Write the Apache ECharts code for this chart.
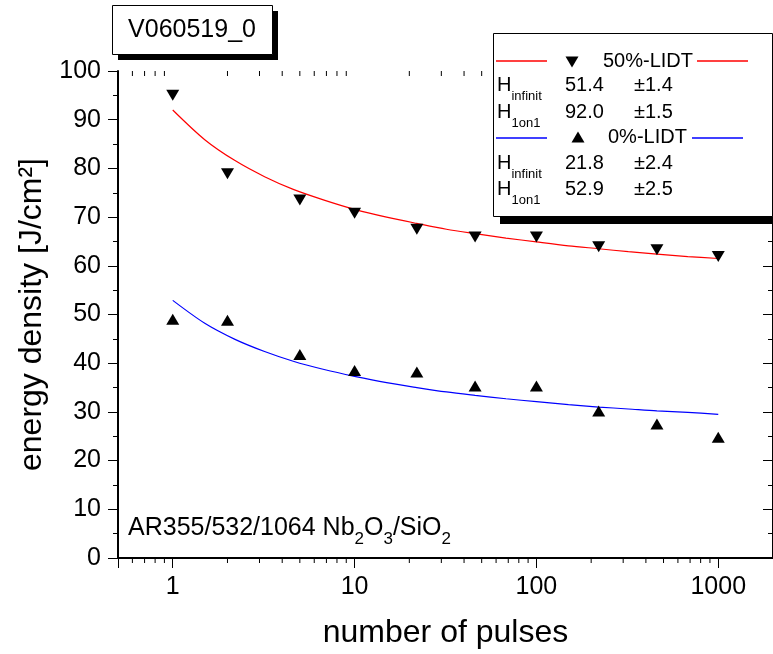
<!DOCTYPE html>
<html>
<head>
<meta charset="utf-8">
<script src="https://cdn.jsdelivr.net/npm/echarts@6/dist/echarts.min.js"></script>
<style>
html,body{margin:0;padding:0;background:#fff;}
#chart{width:773px;height:654px;}
</style>
</head>
<body>
<div id="chart"></div>
<script>
// ---- data ----
const pulses = [1, 2, 5, 10, 22, 46, 100, 220, 460, 1000];
const lidt50 = [95.0, 78.9, 73.5, 70.8, 67.5, 65.9, 65.9, 63.9, 63.3, 61.9];
const lidt0  = [49.0, 48.8, 41.8, 38.5, 38.2, 35.3, 35.3, 30.2, 27.5, 24.8];

// fitted curves
const fitPulses = [1, 1.5, 2.2, 3.2, 4.6, 6.8, 10, 15, 22, 32, 46, 68, 100, 150, 220, 320, 460, 680, 1000];
const fit50 = [92.0, 85.9, 81.6, 78.3, 75.7, 73.5, 71.6, 70.0, 68.7, 67.5, 66.6, 65.7, 64.9, 64.1, 63.5, 62.9, 62.4, 61.9, 61.5];
const fit0  = [52.9, 48.2, 44.9, 42.4, 40.4, 38.7, 37.3, 36.0, 35.0, 34.1, 33.4, 32.7, 32.1, 31.5, 31.0, 30.6, 30.2, 29.9, 29.5];

const xMinorTicks = [0.6, 0.7, 0.8, 0.9, 2, 3, 4, 5, 6, 7, 8, 9, 20, 30, 40, 50, 60, 70, 80, 90,
                     200, 300, 400, 500, 600, 700, 800, 900];
const xTickLabels = ['1', '10', '100', '1000'];

const titleText = 'V060519_0';
const legendRows50 = [['infinit', '51.4', '±1.4'], ['1on1', '92.0', '±1.5']];
const legendRows0  = [['infinit', '21.8', '±2.4'], ['1on1', '52.9', '±2.5']];
const legendHead50 = '50%-LIDT';
const legendHead0  = '0%-LIDT';

// ---- chart ----
const FONT = '"Liberation Sans", Arial, sans-serif';
const chart = echarts.init(document.getElementById('chart'), null, {renderer: 'canvas'});

const pair = (xs, ys) => xs.map((x, i) => [x, ys[i]]);

function hText(x, y, sub) {
  return {
    type: 'text', z: 101,
    style: {
      x: x, y: y, verticalAlign: 'middle', align: 'left',
      text: '{h|H}{s|' + sub + '}',
      rich: {
        h: {fontSize: 20, fontFamily: FONT, lineHeight: 36, verticalAlign: 'middle', fill: '#000'},
        s: {fontSize: 13, fontFamily: FONT, lineHeight: 14, verticalAlign: 'bottom', fill: '#000'}
      }
    }
  };
}
function plainText(x, y, t, size) {
  return {type: 'text', z: 101, style: {x: x, y: y, text: t, fontSize: size, fontFamily: FONT, fill: '#000', verticalAlign: 'middle', align: 'left'}};
}
function hline(x1, x2, y, color) {
  return {type: 'polyline', z: 101, shape: {points: [[x1, y], [x2, y]]}, style: {stroke: color, lineWidth: 1.4, fill: null}};
}

const graphics = [
  // title box
  {type: 'rect', z: 100, shape: {x: 118, y: 11, width: 160, height: 49}, style: {fill: '#000'}},
  {type: 'rect', z: 100, shape: {x: 112.5, y: 5.5, width: 160, height: 49}, style: {fill: '#fff', stroke: '#000', lineWidth: 1}},
  {type: 'text', z: 101, style: {x: 192, y: 30, text: titleText, fontSize: 25, fontFamily: FONT, fill: '#000', align: 'center', verticalAlign: 'middle'}},
  // legend box
  {type: 'rect', z: 100, shape: {x: 500, y: 40, width: 290, height: 184}, style: {fill: '#000'}},
  {type: 'rect', z: 100, shape: {x: 493.5, y: 33.5, width: 279, height: 183}, style: {fill: '#fff', stroke: '#000', lineWidth: 1}},
  hline(496, 547, 61, '#ff0000'),
  {type: 'polygon', z: 101, shape: {points: [[565.5, 56.5], [578.5, 56.5], [572, 67.5]]}, style: {fill: '#000'}},
  plainText(603, 61, legendHead50, 20),
  hline(697, 748, 61, '#ff0000'),
  hText(497, 85, legendRows50[0][0]), plainText(565, 85, legendRows50[0][1], 20), plainText(634, 85, legendRows50[0][2], 20),
  hText(497, 112, legendRows50[1][0]), plainText(565, 112, legendRows50[1][1], 20), plainText(634, 112, legendRows50[1][2], 20),
  hline(496, 547, 138, '#0000ff'),
  {type: 'polygon', z: 101, shape: {points: [[578, 131.5], [584.5, 142.5], [571.5, 142.5]]}, style: {fill: '#000'}},
  plainText(608, 137, legendHead0, 20),
  hline(692, 743, 138, '#0000ff'),
  hText(497, 163, legendRows0[0][0]), plainText(565, 163, legendRows0[0][1], 20), plainText(634, 163, legendRows0[0][2], 20),
  hText(497, 189, legendRows0[1][0]), plainText(565, 189, legendRows0[1][1], 20), plainText(634, 189, legendRows0[1][2], 20),
  // sample annotation
  {
    type: 'text', z: 101,
    style: {
      x: 128, y: 528, align: 'left', verticalAlign: 'middle',
      text: '{m|AR355/532/1064 Nb}{s|2}{m|O}{s|3}{m|/SiO}{s|2}',
      rich: {
        m: {fontSize: 25, fontFamily: FONT, lineHeight: 40, verticalAlign: 'middle', fill: '#000'},
        s: {fontSize: 17, fontFamily: FONT, lineHeight: 18, verticalAlign: 'bottom', fill: '#000'}
      }
    }
  }
];

const axisLineStyle = {show: true, lineStyle: {color: '#000', width: 2}};
const labelStyle = {color: '#000', fontSize: 25, fontFamily: FONT};

const option = {
  animation: false,
  backgroundColor: '#fff',
  grid: {left: 118, top: 71, width: 660, height: 488, containLabel: false},
  xAxis: [
    {
      type: 'log', logBase: 10, min: 0.5, max: 2000, position: 'bottom',
      axisLine: axisLineStyle,
      axisTick: {show: true, inside: false, length: 10, lineStyle: {color: '#000', width: 1}},
      axisLabel: Object.assign({margin: 17, showMinLabel: false, showMaxLabel: false,
        formatter: v => { const s = String(Math.round(v)); return xTickLabels.indexOf(s) >= 0 ? s : ''; }}, labelStyle),
      splitLine: {show: false},
      name: 'number of pulses', nameLocation: 'middle', nameGap: 59,
      nameTextStyle: {color: '#000', fontSize: 32, fontFamily: FONT}
    },
    {
      type: 'log', logBase: 10, min: 0.5, max: 2000, position: 'top',
      axisLine: axisLineStyle,
      axisTick: {show: true, inside: true, length: 10, lineStyle: {color: '#000', width: 1}},
      axisLabel: {show: false},
      splitLine: {show: false}
    }
  ],
  yAxis: [
    {
      type: 'value', min: 0, max: 100, interval: 10, position: 'left',
      axisLine: axisLineStyle,
      axisTick: {show: true, inside: false, length: 10, lineStyle: {color: '#000', width: 1}},
      minorTick: {show: true, splitNumber: 2, length: 5, lineStyle: {color: '#000', width: 1}},
      axisLabel: Object.assign({margin: 17}, labelStyle),
      splitLine: {show: false},
      name: 'energy density [J/cm²]', nameLocation: 'middle', nameGap: 62,
      nameTextStyle: {color: '#000', fontSize: 32, fontFamily: FONT}
    },
    {
      type: 'value', min: 0, max: 100, interval: 10, position: 'right',
      axisLine: axisLineStyle,
      axisTick: {show: true, inside: true, length: 10, lineStyle: {color: '#000', width: 1}},
      minorTick: {show: true, splitNumber: 2, length: 5, lineStyle: {color: '#000', width: 1}},
      axisLabel: {show: false},
      splitLine: {show: false}
    }
  ],
  series: [
    {
      type: 'custom', name: 'minor ticks', xAxisIndex: 0, yAxisIndex: 0, clip: false, silent: true, z: 1,
      data: xMinorTicks.map(v => [v, 0]),
      encode: {x: 0, y: 1},
      renderItem: (params, api) => {
        const v = api.value(0);
        const pb = api.coord([v, 0]);
        const pt = api.coord([v, 100]);
        return {
          type: 'group',
          children: [
            {type: 'line', shape: {x1: pb[0], y1: pb[1], x2: pb[0], y2: pb[1] + 5}, style: {stroke: '#000', lineWidth: 1}},
            {type: 'line', shape: {x1: pt[0], y1: pt[1], x2: pt[0], y2: pt[1] + 5}, style: {stroke: '#000', lineWidth: 1}}
          ]
        };
      }
    },
    {
      type: 'line', name: 'fit 50%', data: pair(fitPulses, fit50), showSymbol: false, symbol: 'none',
      smooth: 0.3, lineStyle: {color: '#ff0000', width: 1.2}, z: 3
    },
    {
      type: 'line', name: 'fit 0%', data: pair(fitPulses, fit0), showSymbol: false, symbol: 'none',
      smooth: 0.3, lineStyle: {color: '#0000ff', width: 1.2}, z: 3
    },
    {
      type: 'scatter', name: '50%-LIDT', data: pair(pulses, lidt50), symbol: 'triangle',
      symbolSize: [13, 11], symbolRotate: 180, itemStyle: {color: '#000', opacity: 1}, z: 4
    },
    {
      type: 'scatter', name: '0%-LIDT', data: pair(pulses, lidt0), symbol: 'triangle',
      symbolSize: [13, 11], itemStyle: {color: '#000', opacity: 1}, z: 4
    }
  ],
  graphic: graphics
};
chart.setOption(option);
</script>
</body>
</html>
